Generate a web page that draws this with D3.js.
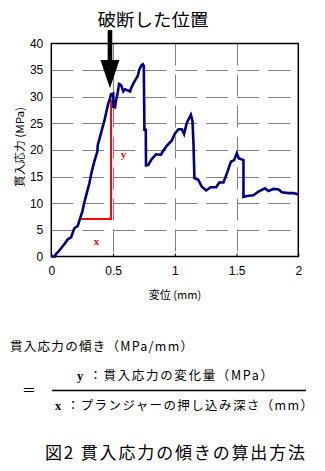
<!DOCTYPE html>
<html><head><meta charset="utf-8">
<script src="https://cdn.jsdelivr.net/npm/d3@7"></script>
<style>
html,body{margin:0;padding:0;background:#fff;}
svg{display:block;}
text{font-family:"Noto Sans CJK JP","Noto Sans",sans-serif;fill:#000;}
</style></head>
<body>
<script>
// ---- data ----
const dispMm = [0,0.03,0.038,0.057,0.089,0.111,0.133,0.16,0.186,0.214,0.233,0.251,0.267,0.287,0.308,0.327,0.348,0.373,0.376,0.395,0.413,0.43,0.449,0.462,0.476,0.484,0.502,0.502,0.516,0.522,0.538,0.549,0.565,0.583,0.597,0.638,0.646,0.665,0.684,0.70,0.711,0.727,0.741,0.749,0.754,0.765,0.767,0.786,0.813,0.848,0.887,0.908,0.935,0.976,1.002,1.03,1.057,1.075,1.097,1.13,1.143,1.151,1.159,1.19,1.219,1.254,1.29,1.335,1.36,1.394,1.426,1.454,1.48,1.502,1.519,1.524,1.556,1.556,1.596,1.637,1.677,1.73,1.759,1.80,1.84,1.867,1.92,1.96,2.0];
const stressMPa = [0,0,0.47,0.9,1.84,2.48,3.23,3.6,5.3,5.73,7.17,8.4,10.1,11.9,13.7,15.9,17.8,19.7,20.9,22.5,24.1,25.5,27.5,28.8,29.7,30.5,30.6,28.1,28.0,29.1,30.8,32.4,32.2,31.0,31.4,31.0,31.6,32.5,33.3,33.9,35.0,35.8,36.1,35.8,23.8,23.8,17.1,17.2,18.3,19.2,19.1,19.9,20.8,21.8,23.1,23.9,23.9,23.0,25.1,26.6,25.5,21.4,14.7,14.4,13.1,12.4,13.0,13.0,13.9,13.9,15.9,17.8,18.1,19.4,18.4,18.4,18.1,11.2,11.4,11.5,12.2,12.8,12.3,12.7,12.6,12.05,11.9,11.9,11.7];
const xTicks = [0,0.5,1,1.5,2];
const xTickLabels = ["0","0.5","1","1.5","2"];
const yTicks = [0,5,10,15,20,25,30,35,40];
const redX = [0.233,0.484,0.484];   // slope construction
const redY = [7.04,7.04,29.5];
const arrowX = 0.475, arrowTip = 31.6;

const W=325,H=471;
const svg=d3.select("body").append("svg").attr("width",W).attr("height",H);
const x=d3.scaleLinear().domain([0,2]).range([51.3,298.3]);
const y=d3.scaleLinear().domain([0,40]).range([256.5,43.5]);

// grid
const g=svg.append("g");
g.selectAll(".hg").data(yTicks.filter(v=>v>0&&v<40)).join("line")
 .attr("x1",x(0)).attr("x2",x(2)).attr("y1",d=>Math.round(y(d))+0.5).attr("y2",d=>Math.round(y(d))+0.5)
 .attr("stroke","#808080").attr("stroke-width",1).attr("stroke-dasharray","22,9");
g.selectAll(".vg").data(xTicks.filter(v=>v>0&&v<2)).join("line")
 .attr("y1",y(40)).attr("y2",y(0)).attr("x1",d=>Math.round(x(d))+0.5).attr("x2",d=>Math.round(x(d))+0.5)
 .attr("stroke","#808080").attr("stroke-width",1).attr("stroke-dasharray","22,9");

// axes
const xa=svg.append("g").attr("transform",`translate(0,${y(0)})`)
 .call(d3.axisBottom(x).tickValues(xTicks).tickSize(-3).tickPadding(10).tickFormat((d,i)=>xTickLabels[i]));
xa.select(".domain").remove();
xa.selectAll("line").attr("stroke","#000");
xa.selectAll("text").style("font-size","12px").style("font-family","Liberation Sans, Arial, sans-serif");
const ya=svg.append("g").attr("transform",`translate(${x(0)},0)`)
 .call(d3.axisLeft(y).tickValues(yTicks).tickSize(0).tickPadding(8));
ya.select(".domain").remove();
ya.selectAll("text").style("font-size","12px").style("font-family","Liberation Sans, Arial, sans-serif");

// frame
svg.append("rect").attr("x",x(0)).attr("y",y(40)).attr("width",x(2)-x(0)).attr("height",y(0)-y(40))
 .attr("fill","none").attr("stroke","#000").attr("stroke-width",1.5);

// red slope construction
const pts=redX.map((v,i)=>[v,redY[i]]);
svg.append("path").attr("d",d3.line().x(d=>x(d[0])).y(d=>y(d[1]))(pts))
 .attr("fill","none").attr("stroke","#ff0000").attr("stroke-width",2);
svg.append("text").attr("x",x(0.365)).attr("y",y(2.2)).attr("text-anchor","middle")
 .style("font-family","Liberation Serif,serif").style("font-weight","bold").style("font-size","11px").style("fill","#ff0000").text("x");
svg.append("text").attr("x",x(0.585)).attr("y",y(18.5)).attr("text-anchor","middle")
 .style("font-family","Liberation Serif,serif").style("font-weight","bold").style("font-size","11px").style("fill","#ff0000").text("y");

// curve
const data=dispMm.map((v,i)=>[v,stressMPa[i]]);
svg.append("path").attr("d",d3.line().x(d=>x(d[0])).y(d=>y(d[1]))(data))
 .attr("fill","none").attr("stroke","#000080").attr("stroke-width",2.6).attr("stroke-linejoin","miter");

// arrow
const ax=x(arrowX), tip=y(arrowTip);
svg.append("rect").attr("x",ax-2.3).attr("y",30).attr("width",4.6).attr("height",tip-30-20);
svg.append("path").attr("d",`M${ax-9.5},${60}L${ax+9.5},${60}L${ax},${tip}Z`).attr("fill","#000");
svg.append("text").attr("x",153).attr("y",26).attr("text-anchor","middle").style("font-size","17px")
 .attr("textLength",111).attr("lengthAdjust","spacingAndGlyphs").text("破断した位置");

// axis titles
svg.append("text").attr("x",175).attr("y",299).attr("text-anchor","middle").style("font-size","11px").text("変位 (mm)");
svg.append("text").attr("transform","translate(24,147) rotate(-90)").attr("text-anchor","middle").style("font-size","11px")
 .attr("textLength",80).attr("lengthAdjust","spacingAndGlyphs").text("貫入応力 (MPa)");

// formula
svg.append("text").attr("x",10).attr("y",351).style("font-size","12.5px")
 .attr("textLength",183).attr("lengthAdjust","spacing").text("貫入応力の傾き（MPa/mm）");
svg.append("text").attr("x",29).attr("y",395).attr("text-anchor","middle").style("font-size","14px").text("＝");
svg.append("line").attr("x1",52).attr("x2",306).attr("y1",390.5).attr("y2",390.5).attr("stroke","#000").attr("stroke-width",1.5);
const num=svg.append("text").attr("x",77).attr("y",380).style("font-size","12.5px")
 .attr("textLength",196).attr("lengthAdjust","spacing");
num.append("tspan").style("font-family","Liberation Serif,serif").style("font-weight","bold").text("y");
num.append("tspan").text(" ：貫入応力の変化量（MPa）");
const den=svg.append("text").attr("x",55).attr("y",410).style("font-size","12.5px")
 .attr("textLength",258).attr("lengthAdjust","spacing");
den.append("tspan").style("font-family","Liberation Serif,serif").style("font-weight","bold").text("x");
den.append("tspan").text(" ：プランジャーの押し込み深さ（mm）");
svg.append("text").attr("x",45).attr("y",459).style("font-size","17px")
 .attr("textLength",260).attr("lengthAdjust","spacing").text("図2  貫入応力の傾きの算出方法");
</script>
</body></html>
